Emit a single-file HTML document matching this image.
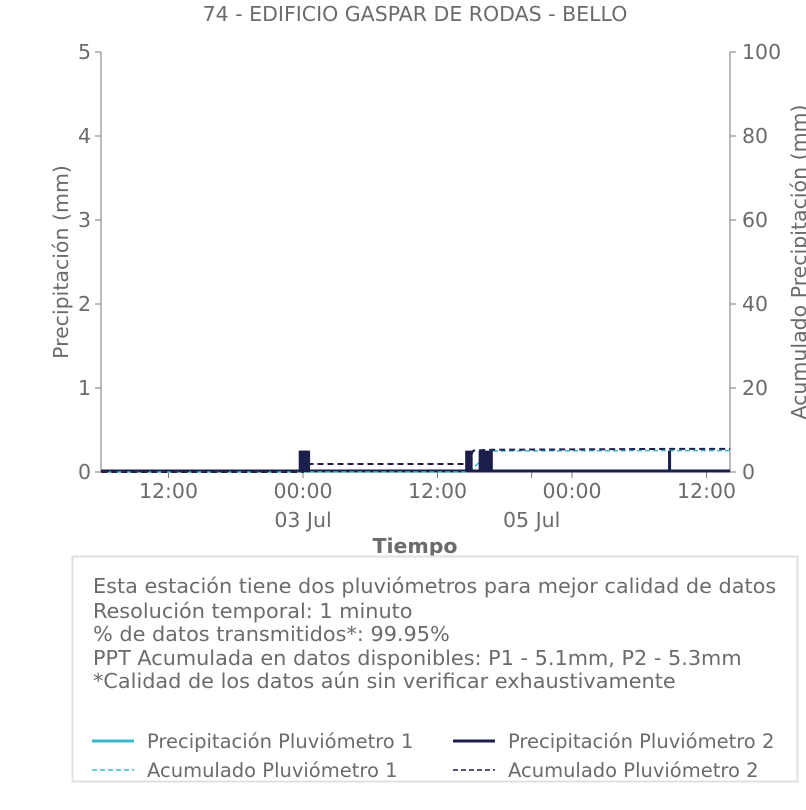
<!DOCTYPE html>
<html><head><meta charset="utf-8"><style>
body{margin:0;background:#fff;font-family:"DejaVu Sans","Liberation Sans",sans-serif;}
svg text{fill:#6b6b6b;font-family:"DejaVu Sans","Liberation Sans",sans-serif;}
</style></head><body>
<svg id="c" width="806" height="806">
<text x="415" y="21" font-size="20.5" text-anchor="middle">74 - EDIFICIO GASPAR DE RODAS - BELLO</text>
<g id="plot"></g>
<text transform="translate(68,262) rotate(-90)" font-size="20.5" text-anchor="middle">Precipitación (mm)</text>
<text transform="translate(806,262) rotate(-90)" font-size="20.5" text-anchor="middle">Acumulado Precipitación (mm)</text>
<text x="415" y="553" font-size="20.5" font-weight="bold" text-anchor="middle">Tiempo</text>
<g>
<rect x="72.5" y="556.5" width="725" height="225" fill="#fff" stroke="#e0e0e0" stroke-width="2"/>
<text x="93" y="593" font-size="20.8">Esta estación tiene dos pluviómetros para mejor calidad de datos</text>
<text x="93" y="618" font-size="20.8">Resolución temporal: 1 minuto</text>
<text x="93" y="641" font-size="20.8">% de datos transmitidos*: 99.95%</text>
<text x="93" y="665" font-size="20.8">PPT Acumulada en datos disponibles: P1 - 5.1mm, P2 - 5.3mm</text>
<text x="93" y="688" font-size="20.8">*Calidad de los datos aún sin verificar exhaustivamente</text>
<g><line x1="92" x2="134" y1="741" y2="741" stroke="#3cb8cc" stroke-width="3"/><text x="147" y="748" font-size="19.5">Precipitación Pluviómetro 1</text></g>
<g><line x1="453" x2="495" y1="741" y2="741" stroke="#1b1f4a" stroke-width="3"/><text x="508" y="748" font-size="19.5">Precipitación Pluviómetro 2</text></g>
<g><line x1="92" x2="134" y1="770" y2="770" stroke="#3cb8cc" stroke-width="1.5" stroke-dasharray="5,3"/><text x="147" y="777" font-size="19.5">Acumulado Pluviómetro 1</text></g>
<g><line x1="453" x2="495" y1="770" y2="770" stroke="#1b1f4a" stroke-width="1.5" stroke-dasharray="5,3"/><text x="508" y="777" font-size="19.5">Acumulado Pluviómetro 2</text></g>
</g>
</svg>
<script>
// hours relative to 00:00 03 Jul
const p1Times=[14.8,15.9,16.5,32.7];
const p1Values=[0.254,0.254,0.254,0.254];
const p2Times=[-0.25,-0.1,0.05,0.2,0.35,0.5,14.6,14.8,15.0,15.8,16.0,16.2,16.4,16.6,16.8,32.7];
const p2Values=[0.254,0.254,0.254,0.254,0.254,0.254,0.254,0.254,0.254,0.254,0.254,0.254,0.254,0.254,0.254,0.254];
const cum1Times=[-18,14.8,16.8,32.7,38.1];
const cum1Values=[0,0,5.0,5.1,5.1];
const cum2Times=[-18,0.0,0.6,14.6,15.2,16.8,32.7,38.1];
const cum2Values=[0,0,1.9,1.9,5.1,5.3,5.5,5.5];
const yTicks=[0,1,2,3,4,5];
const y2Ticks=[0,20,40,60,80,100];
const xTicks=[-12,0,12,24,36];
const xTickLabels=["12:00","00:00","12:00","00:00","12:00"];
const dateTicks=[0,20.4];
const dateLabels=["03 Jul","05 Jul"];

const L=101,R=730,T=52,B=472;
const X=h=>303+h*11.21;
const Y=v=>B-v/5*(B-T);
const Y2=v=>B-v/100*(B-T);
const NS="http://www.w3.org/2000/svg";
const g=document.getElementById('plot');
function mk(tag,attrs){const e=document.createElementNS(NS,tag);for(const k in attrs)e.setAttribute(k,attrs[k]);g.appendChild(e);return e;}

let ax=mk('path',{d:`M${L},${T}V${B}H${R}V${T}`,fill:'none',stroke:'#777','stroke-width':1});


yTicks.forEach(v=>{
  const l=mk('line',{x1:L-6,x2:L,y1:Y(v),y2:Y(v),stroke:'#777'});
  
  
  const t=mk('text',{x:L-10,y:Y(v)+7,'font-size':20.5,'text-anchor':'end'});t.textContent=v;
  
  
});
y2Ticks.forEach(v=>{
  const l=mk('line',{x1:R,x2:R+6,y1:Y2(v),y2:Y2(v),stroke:'#777'});
  
  
  const t=mk('text',{x:R+12,y:Y2(v)+7,'font-size':20.5});t.textContent=v;
  
  
});
xTicks.forEach((h,i)=>{
  const l=mk('line',{x1:X(h),x2:X(h),y1:B,y2:B+6,stroke:'#777'});
  
  
  const t=mk('text',{x:X(h),y:B+26,'font-size':20.5,'text-anchor':'middle'});t.textContent=xTickLabels[i];
  
  
});
dateTicks.forEach((h,i)=>{
  const l=mk('line',{x1:X(h),x2:X(h),y1:B,y2:B+6,stroke:'#777'});
  
  
  const t=mk('text',{x:X(h),y:B+55,'font-size':20.5,'text-anchor':'middle'});t.textContent=dateLabels[i];
  
  
});
function step(ts,vs){let d=`M${X(ts[0])},${Y2(vs[0])}`;for(let i=1;i<ts.length;i++)d+=`L${X(ts[i])},${Y2(vs[i])}`;return d;}
let b1=mk('line',{x1:L,x2:R,y1:B-1,y2:B-1,stroke:'#1b1f4a','stroke-width':3});


let c1=mk('path',{d:step(cum1Times,cum1Values),fill:'none',stroke:'#3cb8cc','stroke-width':1.5,'stroke-dasharray':'5,3'});


let c2=mk('path',{d:step(cum2Times,cum2Values),fill:'none',stroke:'#1b1f4a','stroke-width':2,'stroke-dasharray':'6,4'});


p1Times.forEach((h,i)=>{
  const l=mk('line',{x1:X(h),x2:X(h),y1:B,y2:Y(p1Values[i]),stroke:'#3cb8cc','stroke-width':3});
  
  
});
p2Times.forEach((h,i)=>{
  const l=mk('line',{x1:X(h),x2:X(h),y1:B,y2:Y(p2Values[i]),stroke:'#1b1f4a','stroke-width':3});
  
  
});
</script>
</body></html>
